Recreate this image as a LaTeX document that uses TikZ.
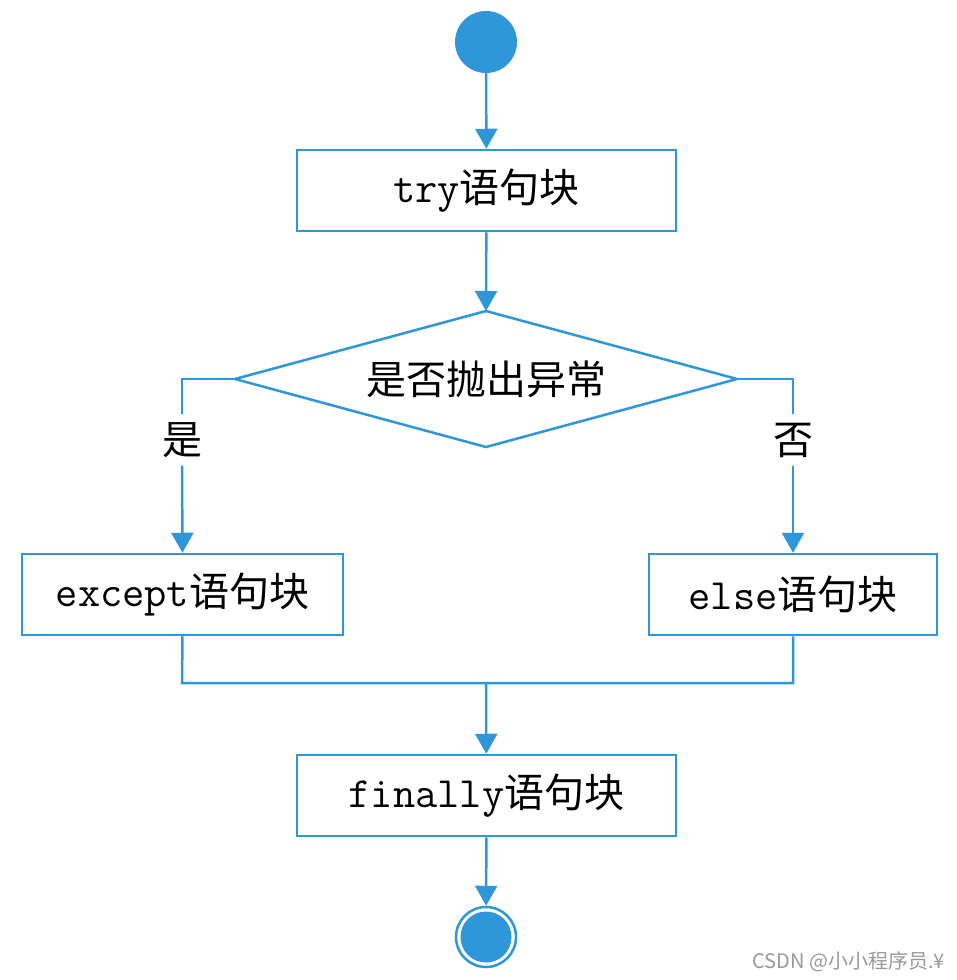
\documentclass[tikz,border=0pt]{standalone}
\usepackage{fontspec}
\newfontfamily\cjk{Noto Sans CJK SC}
\newfontfamily\latmono[Scale=1.08]{Latin Modern Mono}
\usetikzlibrary{arrows.meta}
\definecolor{flowblue}{HTML}{2E96D9}
\tikzset{
  box/.style={draw=flowblue, line width=2.5pt, minimum width=379pt, minimum height=81pt, inner sep=0pt, fill=white, font=\fontsize{40}{44}\selectfont},
  conn/.style={draw=flowblue, line width=2.5pt},
  arr/.style={conn, -{Triangle[width=22pt,length=20pt]}},
  lbl/.style={inner sep=0pt, minimum height=51pt, font=\fontsize{40}{44}\selectfont\cjk}
}
\begin{document}
\begin{tikzpicture}[x=1pt,y=-1pt]
\useasboundingbox (0,0) rectangle (957,980);
\node[circle, fill=flowblue, minimum size=62pt, inner sep=0pt] (start) at (486,42) {};
\node[box] (try) at (486.5,190.5) {{\latmono try}{\cjk 语句块}};
\coordinate (dtop) at (486,311);
\coordinate (dright) at (737,379);
\coordinate (dbot) at (486,447);
\coordinate (dleft) at (235,379);
\draw[conn, line join=miter] (dtop) -- (dright) -- (dbot) -- (dleft) -- cycle;
\node[inner sep=0pt, font=\fontsize{40}{44}\selectfont\cjk] (dec) at (486,379) {是否抛出异常};
\node[box, minimum width=321pt] (except) at (182.5,594.5) {{\latmono except}{\cjk 语句块}};
\node[box, minimum width=288pt] (else) at (793,594.5) {{\latmono else}{\cjk 语句块}};
\node[box] (fin) at (486.5,795.5) {{\latmono finally}{\cjk 语句块}};
\node[circle, draw=flowblue, line width=2.5pt, minimum size=60pt, inner sep=0pt] (end) at (486,937) {};
\node[circle, fill=flowblue, minimum size=51pt, inner sep=0pt] (endin) at (end.center) {};
\node[lbl] (yes) at (182,440) {是};
\node[lbl] (no) at (793,440) {否};
\coordinate (join) at (486,683);
\coordinate (jl) at (182,683);
\coordinate (jr) at (793,683);
\draw[arr] (start) -- (try);
\draw[arr] (try) -- (dtop);
\draw[conn] (dleft) -| (yes.north);
\draw[arr] (yes.south) -- (except.north);
\draw[conn] (dright) -| (no.north);
\draw[arr] (no.south) -- (else.north);
\draw[conn] (except.south) -- (jl) -- (jr) -- (else.south);
\draw[arr] (join) -- (fin);
\draw[arr] (fin) -- (end);
\node[anchor=east, text=gray!80, font=\fontsize{20}{22}\selectfont\cjk, inner sep=0pt] (wm) at (945,962) {CSDN @小小程序员.¥};
\end{tikzpicture}
\end{document}
